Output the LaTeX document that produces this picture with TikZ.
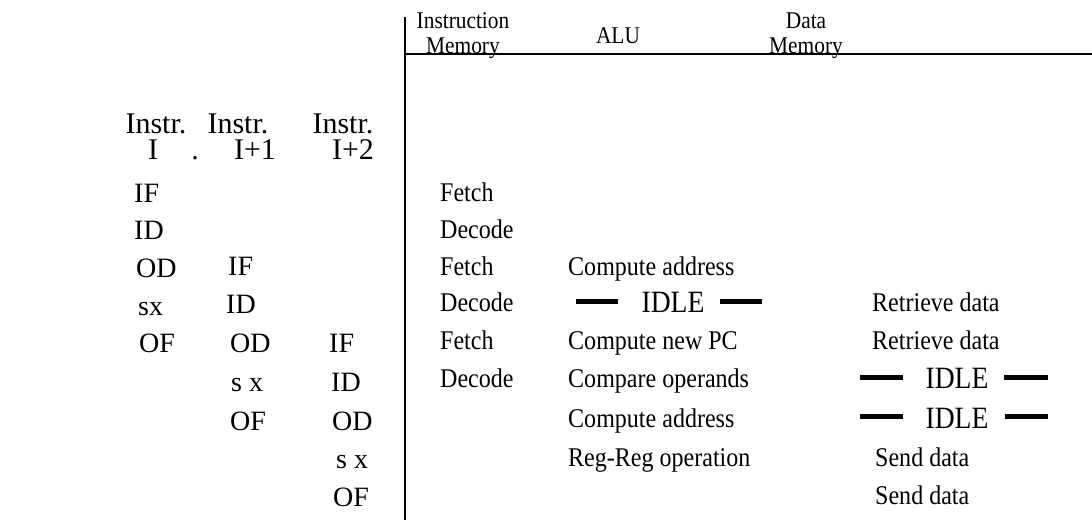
\documentclass[tikz,border=0pt]{standalone}
\usepackage{fontspec}
\setmainfont{Liberation Serif}
% a slightly condensed cut of the same serif for the resource table
\newfontfamily\narrowserif{Liberation Serif}[FakeStretch=0.89]
\begin{document}
\begin{tikzpicture}[x=1pt,y=-1pt,
  hdr/.style={font=\narrowserif\fontsize{24}{24}\selectfont, inner sep=0, anchor=base},
  colhead/.style={font=\fontsize{30}{30}\selectfont, inner sep=0, anchor=base},
  stage/.style={font=\fontsize{28}{28}\selectfont, inner sep=0, anchor=base west},
  act/.style={font=\narrowserif\fontsize{27}{27}\selectfont, inner sep=0, anchor=base west},
  idle/.style={font=\narrowserif\fontsize{31}{31}\selectfont, inner sep=0, anchor=base},
  idlebar/.style={line width=5pt},
  rule/.style={line width=2.5pt}]
\useasboundingbox (0,0) rectangle (1092,520);

% frame of the resource table
\coordinate (vtop) at (405,17);
\coordinate (vbot) at (405,520);
\coordinate (hbeg) at (405,54);
\coordinate (hend) at (1092,54);
\draw[rule] (vtop) -- (vbot);
\draw[rule] (hbeg) -- (hend);

% resource headings
\node[hdr] (im1) at (463,28) {Instruction};
\node[hdr] (im2) at (463,53) {Memory};
\node[hdr] (alu) at (618,43) {ALU};
\node[hdr] (dm1) at (806,28) {Data};
\node[hdr] (dm2) at (806,53) {Memory};

% instruction headings
\node[colhead] (h1a) at (156,133) {Instr.};
\node[colhead] (h1b) at (153,159) {I};
\node[colhead] (h1c) at (195,159) {.};
\node[colhead] (h2a) at (238,133) {Instr.};
\node[colhead] (h2b) at (255,159) {I+1};
\node[colhead] (h3a) at (343,133) {Instr.};
\node[colhead] (h3b) at (353,159) {I+2};

% pipeline stages of instruction I
\node[stage] (a1) at (134,202) {IF};
\node[stage] (a2) at (134,239) {ID};
\node[stage] (a3) at (136,277) {OD};
\node[stage] (a4) at (138,315) {sx};
\node[stage] (a5) at (139,352) {OF};
% pipeline stages of instruction I+1
\node[stage] (b1) at (228,275) {IF};
\node[stage] (b2) at (226,313) {ID};
\node[stage] (b3) at (230,352) {OD};
\node[stage] (b4) at (231,391) {s x};
\node[stage] (b5) at (230,430) {OF};
% pipeline stages of instruction I+2
\node[stage] (c1) at (329,352) {IF};
\node[stage] (c2) at (331,391) {ID};
\node[stage] (c3) at (332,430) {OD};
\node[stage] (c4) at (336,468) {s x};
\node[stage] (c5) at (333,506) {OF};

% instruction memory activity
\node[act] (m1) at (440,201) {Fetch};
\node[act] (m2) at (440,238) {Decode};
\node[act] (m3) at (440,275) {Fetch};
\node[act] (m4) at (440,311) {Decode};
\node[act] (m5) at (440,349) {Fetch};
\node[act] (m6) at (440,387) {Decode};

% ALU activity
\node[act] (u1) at (568,275) {Compute address};
\node[idle] (u2) at (673,312) {IDLE};
\draw[idlebar] (576,301) -- (618,301);
\draw[idlebar] (720,301) -- (762,301);
\node[act] (u3) at (568,349) {Compute new PC};
\node[act] (u4) at (568,387) {Compare operands};
\node[act] (u5) at (568,427) {Compute address};
\node[act] (u6) at (568,466) {Reg-Reg operation};

% data memory activity
\node[act] (d1) at (872,311) {Retrieve data};
\node[act] (d2) at (872,349) {Retrieve data};
\node[idle] (d3) at (957,388) {IDLE};
\draw[idlebar] (860,377) -- (903,377);
\draw[idlebar] (1004,377) -- (1048,377);
\node[idle] (d4) at (957,428) {IDLE};
\draw[idlebar] (860,416) -- (903,416);
\draw[idlebar] (1005,416) -- (1048,416);
\node[act] (d5) at (875,466) {Send data};
\node[act] (d6) at (875,504) {Send data};
\end{tikzpicture}
\end{document}
